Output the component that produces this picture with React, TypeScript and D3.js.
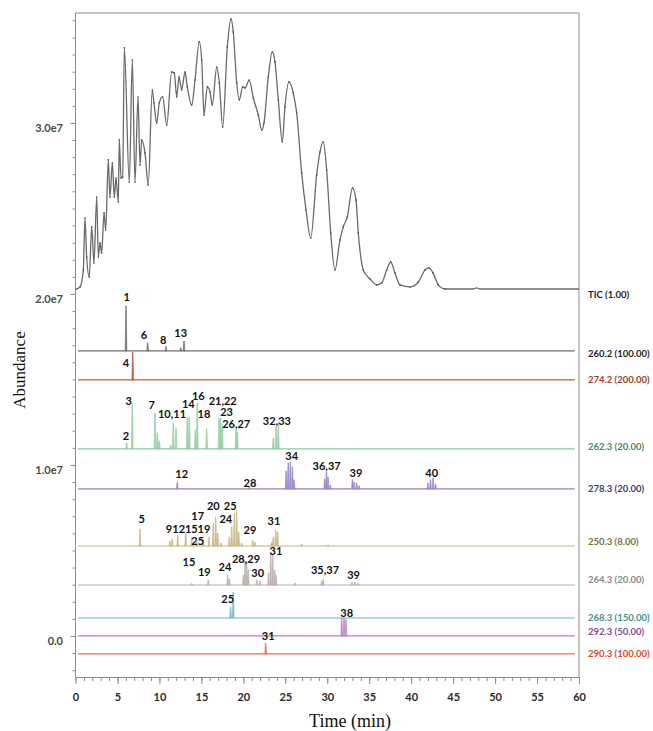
import React, { useRef, useEffect } from 'react';
import * as d3 from 'd3';

const W = 653;
const H = 731;

// TIC trace: [time (min), abundance (x1e6)]
const ticPoints: [number, number][] = [
  [0.14, 20.29], [0.54, 20.41], [0.93, 21.4], [1.13, 24.44], [1.33, 22.16], [1.64, 20.99],
  [1.93, 23.92], [2.2, 21.81], [2.53, 25.67], [2.72, 22.16], [2.92, 22.98], [3.12, 22.4],
  [3.4, 24.74], [3.6, 23.74], [3.91, 27.84], [4.11, 25.67], [4.39, 27.66], [4.62, 25.67],
  [4.83, 26.78], [5.1, 25.38], [5.22, 29.01], [5.42, 26.78], [5.62, 26.84], [5.82, 34.39],
  [6.41, 26.55], [6.77, 33.68], [7.09, 26.55], [7.45, 31.52], [7.69, 27.54], [7.89, 29.01],
  [8.28, 28.25], [8.67, 26.37], [9.15, 31.93], [9.35, 31.17], [9.68, 30.0], [9.99, 31.17],
  [10.39, 31.52], [10.87, 29.88], [11.46, 32.98], [11.77, 32.92], [12.06, 31.52], [12.33, 32.69],
  [12.65, 31.93], [13.05, 32.98], [13.32, 32.11], [13.85, 31.05], [14.24, 32.51], [14.75, 34.74],
  [15.04, 33.68], [15.31, 30.47], [15.71, 32.11], [16.03, 31.81], [16.3, 31.05], [16.83, 33.27],
  [17.14, 32.34], [17.54, 29.77], [18.09, 34.44], [18.53, 36.08], [18.8, 35.32], [19.21, 32.34],
  [19.52, 31.35], [19.92, 32.11], [20.2, 32.05], [20.71, 32.51], [21.19, 31.46], [21.78, 30.47],
  [22.19, 29.59], [22.46, 30.0], [22.97, 32.69], [23.45, 34.15], [23.77, 33.57], [24.17, 31.35],
  [24.64, 28.89], [24.96, 30.94], [25.44, 32.4], [25.95, 31.75], [26.36, 30.58], [26.95, 27.08],
  [27.47, 24.91], [28.03, 23.27], [28.74, 26.96], [29.13, 28.3], [29.53, 28.89], [29.93, 27.25],
  [30.41, 23.57], [30.92, 21.4], [31.52, 23.16], [31.91, 23.92], [32.39, 24.5], [33.01, 26.2],
  [33.42, 25.5], [33.7, 23.57], [34.29, 21.4], [35.09, 20.88], [35.89, 20.53], [36.49, 20.64],
  [37.08, 21.4], [37.56, 21.87], [38.07, 21.23], [38.67, 20.53], [39.86, 20.41], [40.85, 20.7],
  [41.65, 21.4], [42.12, 21.52], [42.6, 21.23], [43.23, 20.53], [44.03, 20.29], [47.37, 20.29],
  [47.81, 20.35], [48.2, 20.29], [60, 20.29],
];
const ticBaseline = 20.29;

// extracted ion traces
const ionNames = [
  '260.2 (100.00)', '274.2 (200.00)', '262.3 (20.00)', '278.3 (20.00)', '250.3 (8.00)',
  '264.3 (20.00)', '268.3 (150.00)', '292.3 (50.00)', '290.3 (100.00)',
];
// offset of each trace on the abundance axis (x1e6)
const ionBaselines = [16.67, 14.97, 10.94, 8.6, 5.26, 2.98, 1.05, 0, -1.05];

// peaks: [time (min), height (x1e6)]
const peaks260: [number, number][] = [[6.02, 2.63], [8.6, 0.47], [10.78, 0.26], [12.54, 0.18], [12.93, 0.58]];
const peaks274: [number, number][] = [[6.82, 1.64]];
const peaks262: [number, number][] = [
  [6.1, 0.35], [6.77, 2.69], [9.47, 2.1], [9.75, 0.94], [9.99, 0.47], [11.34, 0.23], [11.65, 1.52],
  [11.98, 1.23], [13.32, 1.87], [13.56, 1.87], [14.28, 1.11], [14.51, 2.69], [15.63, 1.17],
  [17.1, 1.81], [17.3, 1.81], [17.49, 1.4], [19.13, 1.11], [19.28, 0.99], [23.57, 0.64],
  [23.89, 1.29], [24.17, 1.52],
];
const peaks278: [number, number][] = [
  [12.13, 0.41], [20.71, 0.12], [25.1, 1.05], [25.35, 1.52], [25.6, 1.58], [25.85, 1.29],
  [26.05, 0.53], [29.7, 0.58], [29.9, 0.99], [30.1, 0.7], [30.35, 0.23], [33.0, 0.53],
  [33.2, 0.41], [33.5, 0.35], [33.8, 0.18], [42.0, 0.35], [42.3, 0.53], [42.6, 0.64], [42.9, 0.29],
];
const peaks250: [number, number][] = [
  [7.69, 0.99], [11.26, 0.29], [11.53, 0.41], [12.18, 0.64], [13.13, 0.76], [13.85, 0.47],
  [14.44, 0.23], [15.23, 0.35], [15.91, 0.53], [16.42, 1.35], [16.71, 1.7], [16.95, 0.76],
  [17.34, 0.18], [18.33, 0.53], [18.61, 1.11], [18.92, 1.93], [19.21, 2.05], [19.45, 0.82],
  [19.8, 0.18], [21.12, 0.35], [21.39, 0.23], [23.38, 0.23], [23.57, 0.53], [23.86, 0.94],
  [24.09, 0.82], [26.95, 0.12], [30.12, 0.06],
];
const peaks264: [number, number][] = [
  [13.85, 0.09], [15.82, 0.29], [18.14, 0.58], [18.33, 0.35], [20.0, 0.58], [20.2, 1.35],
  [20.4, 1.29], [20.59, 0.88], [21.59, 0.29], [21.99, 0.23], [23.0, 0.7], [23.26, 1.93],
  [23.5, 1.75], [23.74, 0.88], [23.89, 0.58], [26.16, 0.12], [29.34, 0.23], [29.53, 0.35],
  [32.95, 0.18], [33.3, 0.18], [33.66, 0.12],
];
const peaks268: [number, number][] = [[18.49, 0.64], [18.8, 1.52]];
const peaks292: [number, number][] = [[31.72, 1.05], [32.0, 1.05], [32.23, 0.94]];
const peaks290: [number, number][] = [[22.66, 0.64]];

const ionPeaks = [peaks260, peaks274, peaks262, peaks278, peaks250, peaks264, peaks268, peaks292, peaks290];

// compound numbers: [label, time (min), abundance (x1e6)]
const compoundLabels: [string, number, number][] = [
  ['1', 6.1, 19.88], ['6', 8.16, 17.6], ['8', 10.46, 17.35], ['13', 12.54, 17.74], ['4', 6.02, 16.01],
  ['2', 6.0, 11.75], ['3', 6.35, 13.76], ['7', 9.08, 13.51], ['10,11', 11.5, 12.98], ['14', 13.45, 13.62],
  ['16', 14.63, 14.05], ['18', 15.3, 12.98], ['21,22', 17.54, 13.78], ['23', 18.0, 13.1],
  ['26,27', 19.15, 12.42], ['32,33', 24.0, 12.59],
  ['12', 12.66, 9.51], ['28', 20.79, 8.96], ['34', 25.76, 10.53], ['36,37', 29.93, 9.96],
  ['39', 33.42, 9.55], ['40', 42.45, 9.55],
  ['5', 7.89, 6.88], ['9', 11.14, 6.3], ['12', 12.29, 6.3], ['15', 13.8, 6.3], ['19', 15.3, 6.3],
  ['17', 14.56, 7.02], ['25', 14.56, 5.6], ['20', 16.42, 7.65], ['25', 18.43, 7.65], ['24', 17.91, 6.88],
  ['29', 20.79, 6.24], ['31', 23.65, 6.74],
  ['15', 13.52, 4.35], ['19', 15.35, 3.76], ['24', 17.81, 4.05], ['28,29', 20.32, 4.54],
  ['30', 21.71, 3.72], ['31', 23.89, 4.97], ['35,37', 29.73, 3.86], ['39', 33.13, 3.6],
  ['25', 18.14, 2.2], ['38', 32.32, 1.36], ['31', 22.97, 0.0],
];

const yLabelValues = [0, 10, 20, 30];
const yLabelTexts = ['0.0', '1.0e7', '2.0e7', '3.0e7'];

// styling
const lineColors = ['#6e6e6e', '#c0583f', '#8cc7a0', '#8a84c8', '#c4b47c', '#b9adad', '#6bb6c0', '#b47cc8', '#ef6a52'];
const fillColors = ['#6e6e6e', '#c0583f', '#a6d4b4', '#9d97d2', '#cfc193', '#c4b9b9', '#7cc0c9', '#c08ed2', '#ef6a52'];
const textColors = ['#1f1f1f', '#9c3d2b', '#3e8e5c', '#3d3a7c', '#7a7140', '#8a8686', '#3f8f8c', '#7d4c9a', '#e0452c'];
const labelDy = [3, 0, -2, 0, -5, -6, -1, -4, 0];

export default function App() {
  const svgRef = useRef<SVGSVGElement>(null);

  useEffect(() => {
    const svg = d3.select(svgRef.current);
    svg.selectAll('*').remove();

    const margin = { top: 13, right: 74, bottom: 54, left: 75.5 };
    const x = d3.scaleLinear().domain([0, 60]).range([margin.left, W - margin.right]);
    const y = d3.scaleLinear().domain([-2.4, 36.43]).range([H - margin.bottom, margin.top]);
    const axisColor = '#8c8c8c';
    const sans = 'Lato, "Open Sans", sans-serif';

    // frame (top + right)
    svg.append('path')
      .attr('d', `M${x(0)},${y(36.43)}H${x(60)}V${y(-2.4)}`)
      .attr('fill', 'none')
      .attr('stroke', axisColor)
      .attr('stroke-width', 1);

    // y axis: minor ticks every 1e6, labels every 1e7
    svg.append('g')
      .attr('transform', `translate(${margin.left},0)`)
      .attr('color', axisColor)
      .call(d3.axisLeft(y).tickValues(d3.range(-2, 37, 1)).tickSize(3).tickFormat(() => '').tickSizeOuter(0))
      .call(g => g.select('.domain').attr('d', `M0,${y(-2.4)}V${y(36.43)}`));

    svg.append('g')
      .attr('transform', `translate(${margin.left},0)`)
      .attr('color', axisColor)
      .call(d3.axisLeft(y).tickValues(yLabelValues).tickSize(5).tickPadding(7.5)
        .tickFormat((d, i) => yLabelTexts[i]))
      .call(g => g.select('.domain').remove())
      .call(g => g.selectAll('.tick text')
        .attr('fill', '#4a4a4a')
        .attr('font-size', 11)
        .attr('font-weight', 700)
        .attr('font-family', sans)
        .attr('dy', '0.78em'));

    // x axis
    svg.append('g')
      .attr('transform', `translate(0,${H - margin.bottom})`)
      .attr('color', axisColor)
      .call(d3.axisBottom(x).tickValues(d3.range(0, 61, 1)).tickSize(4).tickFormat(() => '').tickSizeOuter(0));

    svg.append('g')
      .attr('transform', `translate(0,${H - margin.bottom})`)
      .attr('color', axisColor)
      .call(d3.axisBottom(x).tickValues(d3.range(0, 61, 5)).tickSize(7).tickPadding(9).tickFormat(d3.format('d')))
      .call(g => g.select('.domain').remove())
      .call(g => g.selectAll('.tick text')
        .attr('fill', '#2a2a2a')
        .attr('font-size', 11)
        .attr('font-weight', 700)
        .attr('font-family', sans));

    // axis titles
    svg.append('text')
      .attr('transform', `translate(19,370) rotate(-90)`)
      .attr('text-anchor', 'middle')
      .attr('dominant-baseline', 'central')
      .attr('font-family', '"Liberation Serif", "Times New Roman", serif')
      .attr('font-size', 17)
      .attr('fill', '#111')
      .text('Abundance');

    svg.append('text')
      .attr('x', 350)
      .attr('y', 721)
      .attr('text-anchor', 'middle')
      .attr('dominant-baseline', 'central')
      .attr('font-family', '"Liberation Serif", "Times New Roman", serif')
      .attr('font-size', 18)
      .attr('fill', '#111')
      .text('Time (min)');

    // ion trace baselines + peaks
    const peakArea = d3.area<[number, number]>()
      .x(d => x(d[0]))
      .y1(d => y(d[1]));

    ionNames.forEach((name, i) => {
      const base = ionBaselines[i];
      const g = svg.append('g');

      g.append('line')
        .attr('x1', x(0.3))
        .attr('x2', x(59.5))
        .attr('y1', y(base))
        .attr('y2', y(base))
        .attr('stroke', lineColors[i])
        .attr('stroke-width', 1.2);

      peakArea.y0(y(base));
      g.selectAll('path.peak')
        .data(ionPeaks[i])
        .join('path')
        .attr('class', 'peak')
        .attr('d', ([t, h]) => peakArea([
          [t - 0.1, base], [t - 0.03, base + h], [t + 0.03, base + h], [t + 0.1, base],
        ]))
        .attr('fill', fillColors[i])
        .attr('stroke', lineColors[i])
        .attr('stroke-width', 0.6);

      g.append('text')
        .attr('x', 588)
        .attr('y', y(base) + labelDy[i])
        .attr('dominant-baseline', 'central')
        .attr('font-family', sans)
        .attr('font-size', 9.5)
        .attr('font-weight', 700)
        .attr('fill', textColors[i])
        .text(name);
    });

    // TIC
    const line = d3.line<[number, number]>()
      .x(d => x(d[0]))
      .y(d => y(d[1]))
      .curve(d3.curveMonotoneX);

    svg.append('path')
      .datum(ticPoints)
      .attr('fill', 'none')
      .attr('stroke', '#6a6a6a')
      .attr('stroke-width', 1.3)
      .attr('stroke-linejoin', 'round')
      .attr('d', line);

    svg.append('g')
      .selectAll('circle')
      .data(ticPoints.filter(d => d[0] < 45))
      .join('circle')
      .attr('cx', d => x(d[0]))
      .attr('cy', d => y(d[1]))
      .attr('r', 0.8)
      .attr('fill', '#4a4a4a');

    svg.append('text')
      .attr('x', 588)
      .attr('y', y(ticBaseline) + 6)
      .attr('dominant-baseline', 'central')
      .attr('font-family', sans)
      .attr('font-size', 9.5)
      .attr('font-weight', 700)
      .attr('fill', '#1f1f1f')
      .text('TIC (1.00)');

    // compound numbers
    svg.append('g')
      .selectAll('text')
      .data(compoundLabels)
      .join('text')
      .attr('x', d => x(d[1]))
      .attr('y', d => y(d[2]))
      .attr('text-anchor', 'middle')
      .attr('dominant-baseline', 'central')
      .attr('font-family', sans)
      .attr('font-size', 11)
      .attr('font-weight', 700)
      .attr('fill', '#111')
      .text(d => d[0]);
  }, []);

  return (
    <svg
      ref={svgRef}
      width={W}
      height={H}
      style={{ position: 'absolute', left: 0, top: 0, background: '#fff', display: 'block' }}
    />
  );
}
